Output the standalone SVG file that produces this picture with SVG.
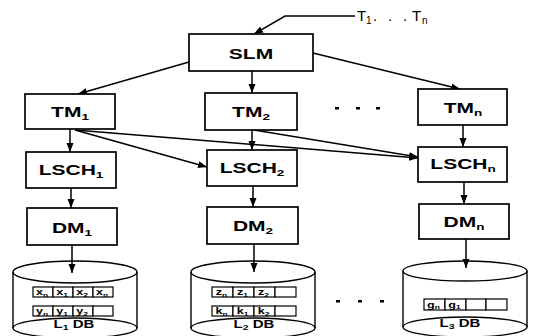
<svg xmlns="http://www.w3.org/2000/svg" width="533" height="336" viewBox="0 0 533 336">
  <style>
    .box { fill: #fff; stroke: #000; stroke-width: 1.7; }
    .cyl { fill: #fff; stroke: #000; stroke-width: 1.4; }
    .cell { fill: #fff; stroke: #000; stroke-width: 1.2; }
    .lbl { font-family: "Liberation Sans", Arial, sans-serif; font-weight: bold; font-size: 14px; text-anchor: middle; fill: #000; }
    .sub { font-size: 9px; }
    .db { font-family: "Liberation Sans", Arial, sans-serif; font-weight: bold; font-size: 10px; text-anchor: middle; fill: #000; }
    .dsub { font-size: 7px; }
    .ct { font-family: "Liberation Sans", Arial, sans-serif; font-weight: bold; font-size: 9px; text-anchor: middle; fill: #000; }
    .csub { font-size: 6px; }
    .tl { font-family: "Liberation Sans", Arial, sans-serif; font-size: 15px; fill: #000; }
    .tsub { font-size: 10px; }
    .edge { fill: none; stroke: #000; stroke-width: 1.5; marker-end: url(#arr); }
    .dot { fill: #000; }
  </style>
  <defs>
    <marker id="arr" markerUnits="userSpaceOnUse" markerWidth="10" markerHeight="8" refX="9" refY="3.5" orient="auto">
      <path d="M0,0 L9,3.5 L0,7 z" fill="#000"/>
    </marker>
  </defs>

  <rect width="533" height="336" fill="#fff"/>

  <!-- connectors -->
  <g id="connectors">
    <polyline class="edge" points="355,16 285,16 254,34"/>
    <line class="edge" x1="189" y1="62" x2="78" y2="94"/>
    <line class="edge" x1="252" y1="71" x2="252" y2="93"/>
    <line class="edge" x1="313" y1="53" x2="460" y2="89"/>
    <line class="edge" x1="70" y1="129" x2="70" y2="152"/>
    <line class="edge" x1="71" y1="188" x2="71" y2="208"/>
    <line class="edge" x1="72" y1="245" x2="72" y2="273"/>
    <line class="edge" x1="75" y1="130" x2="207" y2="167"/>
    <line class="edge" x1="75" y1="130" x2="418" y2="158"/>
    <line class="edge" x1="252" y1="130" x2="252" y2="150"/>
    <line class="edge" x1="254" y1="130" x2="418" y2="157"/>
    <line class="edge" x1="253" y1="186" x2="253" y2="207"/>
    <line class="edge" x1="254" y1="244" x2="254" y2="272"/>
    <line class="edge" x1="463" y1="125" x2="463" y2="147"/>
    <line class="edge" x1="464" y1="182" x2="464" y2="204"/>
    <line class="edge" x1="466" y1="239" x2="466" y2="268"/>
  </g>

  <!-- input transactions -->
  <g id="input">
    <text class="tl" y="21"><tspan x="357">T</tspan><tspan class="tsub" x="366" dy="3">1</tspan><tspan x="373" dy="-3">.</tspan><tspan x="388">.</tspan><tspan x="403">.</tspan><tspan x="412">T</tspan><tspan class="tsub" x="422" dy="3">n</tspan></text>
  </g>

  <g id="slm">
    <rect class="box" x="189" y="34" width="124" height="37"/>
    <text class="lbl" transform="translate(251,59) scale(1.5,1)">SLM</text>
  </g>

  <g id="tm1">
    <rect class="box" x="25" y="94" width="90" height="35"/>
    <text class="lbl" transform="translate(70,117) scale(1.5,1)">TM<tspan class="sub" dy="3">1</tspan></text>
  </g>
  <g id="tm2">
    <rect class="box" x="205" y="93" width="92" height="37"/>
    <text class="lbl" transform="translate(251,117) scale(1.5,1)">TM<tspan class="sub" dy="3">2</tspan></text>
  </g>
  <g id="tmn">
    <rect class="box" x="418" y="89" width="89" height="36"/>
    <text class="lbl" transform="translate(463,113) scale(1.5,1)">TM<tspan class="sub" dy="3">n</tspan></text>
  </g>

  <g id="lsch1">
    <rect class="box" x="26" y="152" width="90" height="36"/>
    <text class="lbl" transform="translate(71,175) scale(1.5,1)">LSCH<tspan class="sub" dy="3">1</tspan></text>
  </g>
  <g id="lsch2">
    <rect class="box" x="207" y="150" width="90" height="36"/>
    <text class="lbl" transform="translate(252,173) scale(1.5,1)">LSCH<tspan class="sub" dy="3">2</tspan></text>
  </g>
  <g id="lschn">
    <rect class="box" x="418" y="147" width="89" height="35"/>
    <text class="lbl" transform="translate(463,169) scale(1.5,1)">LSCH<tspan class="sub" dy="3">n</tspan></text>
  </g>

  <g id="dm1">
    <rect class="box" x="27" y="208" width="90" height="37"/>
    <text class="lbl" transform="translate(72,233) scale(1.5,1)">DM<tspan class="sub" dy="3">1</tspan></text>
  </g>
  <g id="dm2">
    <rect class="box" x="207" y="207" width="91" height="37"/>
    <text class="lbl" transform="translate(253,231) scale(1.5,1)">DM<tspan class="sub" dy="3">2</tspan></text>
  </g>
  <g id="dmn">
    <rect class="box" x="419" y="204" width="90" height="35"/>
    <text class="lbl" transform="translate(464,227) scale(1.5,1)">DM<tspan class="sub" dy="3">n</tspan></text>
  </g>

  <!-- ellipsis marks between columns -->
  <g id="gap-dots">
    <rect class="dot" x="335" y="107" width="4" height="2.5"/>
    <rect class="dot" x="356" y="107" width="4" height="2.5"/>
    <rect class="dot" x="376" y="107" width="4" height="2.5"/>
    <rect class="dot" x="336" y="300" width="4" height="2.5"/>
    <rect class="dot" x="358" y="300" width="4" height="2.5"/>
    <rect class="dot" x="380" y="300" width="4" height="2.5"/>
  </g>

  <!-- database 1 -->
  <g id="db1">
    <ellipse class="cyl" cx="75" cy="328" rx="62" ry="10"/>
    <line class="cyl" x1="13" y1="272" x2="13" y2="328"/>
    <line class="cyl" x1="137" y1="272" x2="137" y2="328"/>
    <ellipse class="cyl" cx="75" cy="272" rx="62" ry="11" style="fill:none"/>
    <rect class="cell" x="33" y="287" width="20" height="10"/>
    <rect class="cell" x="53" y="287" width="20" height="10"/>
    <rect class="cell" x="73" y="287" width="20" height="10"/>
    <rect class="cell" x="93" y="287" width="20" height="10"/>
    <rect class="cell" x="33" y="306" width="20" height="10"/>
    <rect class="cell" x="53" y="306" width="20" height="10"/>
    <rect class="cell" x="73" y="306" width="20" height="10"/>
    <rect class="cell" x="93" y="306" width="20" height="10"/>
    <text class="ct" transform="translate(42,295) scale(1.4,1)">x<tspan class="csub" dy="1.5">n</tspan></text>
    <text class="ct" transform="translate(62,295) scale(1.4,1)">x<tspan class="csub" dy="1.5">1</tspan></text>
    <text class="ct" transform="translate(82,295) scale(1.4,1)">x<tspan class="csub" dy="1.5">2</tspan></text>
    <text class="ct" transform="translate(102,295) scale(1.4,1)">x<tspan class="csub" dy="1.5">n</tspan></text>
    <text class="ct" transform="translate(42,314) scale(1.4,1)">y<tspan class="csub" dy="1.5">n</tspan></text>
    <text class="ct" transform="translate(62,314) scale(1.4,1)">y<tspan class="csub" dy="1.5">1</tspan></text>
    <text class="ct" transform="translate(82,314) scale(1.4,1)">y<tspan class="csub" dy="1.5">2</tspan></text>
    <text class="db" transform="translate(74,328) scale(1.5,1)">L<tspan class="dsub" dy="2">1</tspan><tspan dy="-2"> DB</tspan></text>
  </g>

  <!-- database 2 -->
  <g id="db2">
    <ellipse class="cyl" cx="253" cy="328" rx="62" ry="10"/>
    <line class="cyl" x1="191" y1="272" x2="191" y2="328"/>
    <line class="cyl" x1="315" y1="272" x2="315" y2="328"/>
    <ellipse class="cyl" cx="253" cy="272" rx="62" ry="11" style="fill:none"/>
    <rect class="cell" x="212" y="287" width="21" height="10"/>
    <rect class="cell" x="233" y="287" width="21" height="10"/>
    <rect class="cell" x="254" y="287" width="21" height="10"/>
    <rect class="cell" x="275" y="287" width="21" height="10"/>
    <rect class="cell" x="212" y="306" width="21" height="10"/>
    <rect class="cell" x="233" y="306" width="21" height="10"/>
    <rect class="cell" x="254" y="306" width="21" height="10"/>
    <rect class="cell" x="275" y="306" width="21" height="10"/>
    <text class="ct" transform="translate(221.5,295) scale(1.4,1)">z<tspan class="csub" dy="1.5">n</tspan></text>
    <text class="ct" transform="translate(242.5,295) scale(1.4,1)">z<tspan class="csub" dy="1.5">1</tspan></text>
    <text class="ct" transform="translate(263.5,295) scale(1.4,1)">z<tspan class="csub" dy="1.5">2</tspan></text>
    <text class="ct" transform="translate(221.5,314) scale(1.4,1)">k<tspan class="csub" dy="1.5">n</tspan></text>
    <text class="ct" transform="translate(242.5,314) scale(1.4,1)">k<tspan class="csub" dy="1.5">1</tspan></text>
    <text class="ct" transform="translate(263.5,314) scale(1.4,1)">k<tspan class="csub" dy="1.5">2</tspan></text>
    <text class="db" transform="translate(254,328) scale(1.5,1)">L<tspan class="dsub" dy="2">2</tspan><tspan dy="-2"> DB</tspan></text>
  </g>

  <!-- database 3 -->
  <g id="db3">
    <ellipse class="cyl" cx="465" cy="327" rx="62" ry="10"/>
    <line class="cyl" x1="403" y1="271" x2="403" y2="327"/>
    <line class="cyl" x1="527" y1="271" x2="527" y2="327"/>
    <ellipse class="cyl" cx="465" cy="271" rx="62" ry="10" style="fill:none"/>
    <rect class="cell" x="424" y="299" width="21" height="11"/>
    <rect class="cell" x="445" y="299" width="21" height="11"/>
    <rect class="cell" x="466" y="299" width="20" height="11"/>
    <rect class="cell" x="486" y="299" width="21" height="11"/>
    <text class="ct" transform="translate(433.5,307.5) scale(1.4,1)">g<tspan class="csub" dy="1.5">n</tspan></text>
    <text class="ct" transform="translate(454.5,307.5) scale(1.4,1)">g<tspan class="csub" dy="1.5">1</tspan></text>
    <text class="db" transform="translate(460,327) scale(1.5,1)">L<tspan class="dsub" dy="2">3</tspan><tspan dy="-2"> DB</tspan></text>
  </g>
</svg>
